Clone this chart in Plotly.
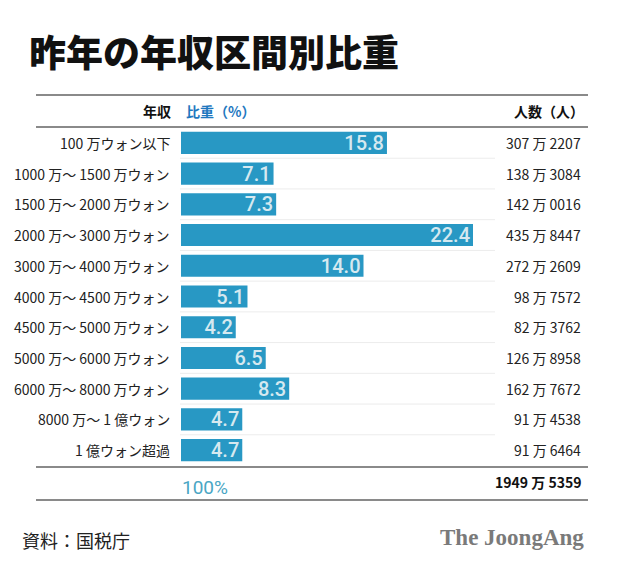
import plotly.graph_objects as go

# 年収区間
brackets = ["100 万ウォン以下", "1000 万～ 1500 万ウォン", "1500 万～ 2000 万ウォン",
            "2000 万～ 3000 万ウォン", "3000 万～ 4000 万ウォン", "4000 万～ 4500 万ウォン",
            "4500 万～ 5000 万ウォン", "5000 万～ 6000 万ウォン", "6000 万～ 8000 万ウォン",
            "8000 万～ 1 億ウォン", "1 億ウォン超過"]
share = [15.8, 7.1, 7.3, 22.4, 14.0, 5.1, 4.2, 6.5, 8.3, 4.7, 4.7]
people = ["307 万 2207", "138 万 3084", "142 万 0016", "435 万 8447", "272 万 2609",
          "98 万 7572", "82 万 3762", "126 万 8958", "162 万 7672", "91 万 4538", "91 万 6464"]
total_people = "1949 万 5359"

W, H = 620, 571
OFF = 8  # page body margin
JP = "Noto Sans CJK JP"
BAR = "#2898c4"

ypos = list(range(len(brackets)))


def px(p):
    return (p - OFF) / W


def py(p):
    return 1 - (p - OFF) / H


fig = go.Figure(go.Bar(
    x=share, y=ypos, orientation="h",
    marker=dict(color=BAR, line=dict(width=0)),
    width=0.72,
    text=[f"{v:.1f}" for v in share],
    textposition="inside", insidetextanchor="end",
    constraintext="none",
    textfont=dict(family="Roboto, Arial", size=20, color="#d6e9f0", weight=500),
    hoverinfo="skip",
))

fig.update_layout(
    width=W, height=H, margin=dict(l=0, r=0, t=0, b=0),
    paper_bgcolor="white", plot_bgcolor="rgba(0,0,0,0)",
    showlegend=False,
    xaxis=dict(domain=[px(181), px(473)], range=[0, 22.4], visible=False, fixedrange=True),
    yaxis=dict(domain=[py(465.5), py(127.5)], range=[10.5, -0.5], visible=False, fixedrange=True),
)

# row labels and counts
for i, (b, p) in enumerate(zip(brackets, people)):
    fig.add_annotation(x=px(172), y=i, xref="paper", yref="y", text=b, showarrow=False,
                       xanchor="right", yanchor="middle",
                       font=dict(family=JP, size=14, color="#222"))
    fig.add_annotation(x=px(583), y=i, xref="paper", yref="y", text=p, showarrow=False,
                       xanchor="right", yanchor="middle",
                       font=dict(family=JP, size=14, color="#222"))

# faint row separators
for i in range(len(brackets) - 1):
    fig.add_shape(type="line", xref="paper", yref="y", x0=px(180), x1=px(495),
                  y0=i + 0.5, y1=i + 0.5, line=dict(color="#ececec", width=1))

# header / footer rules
for yy in [95, 127, 467, 500]:
    fig.add_shape(type="line", xref="paper", yref="paper", x0=px(36), x1=px(588),
                  y0=py(yy), y1=py(yy), line=dict(color="#8a8a8a", width=2))

# title
fig.add_annotation(x=px(27), y=py(51), xref="paper", yref="paper", text="昨年の年収区間別比重",
                   showarrow=False, xanchor="left", yanchor="middle",
                   font=dict(family=JP, size=37, color="#111", weight=900))

# header row
fig.add_annotation(x=px(173), y=py(111), xref="paper", yref="paper", text="<b>年収</b>",
                   showarrow=False, xanchor="right", yanchor="middle",
                   font=dict(family=JP, size=14, color="#111"))
fig.add_annotation(x=px(184), y=py(111), xref="paper", yref="paper", text="<b>比重（%）</b>",
                   showarrow=False, xanchor="left", yanchor="middle",
                   font=dict(family=JP, size=14, color="#1f78bf"))
fig.add_annotation(x=px(586), y=py(111), xref="paper", yref="paper", text="<b>人数（人）</b>",
                   showarrow=False, xanchor="right", yanchor="middle",
                   font=dict(family=JP, size=14, color="#111"))

# total row
fig.add_annotation(x=px(180), y=py(487), xref="paper", yref="paper", text="100%",
                   showarrow=False, xanchor="left", yanchor="middle",
                   font=dict(family="Roboto, Arial", size=19, color="#4aa6c4"))
fig.add_annotation(x=px(583), y=py(482), xref="paper", yref="paper", text="<b>" + total_people + "</b>",
                   showarrow=False, xanchor="right", yanchor="middle",
                   font=dict(family=JP, size=14, color="#111"))

# footer
fig.add_annotation(x=px(20), y=py(540), xref="paper", yref="paper", text="資料：国税庁",
                   showarrow=False, xanchor="left", yanchor="middle",
                   font=dict(family=JP, size=18, color="#222"))
fig.add_annotation(x=px(586), y=py(537), xref="paper", yref="paper", text="<b>The JoongAng</b>",
                   showarrow=False, xanchor="right", yanchor="middle",
                   font=dict(family="Liberation Serif, DejaVu Serif", size=23, color="#7a7a7a"))

fig.write_html("out.html", config={"displayModeBar": False})
